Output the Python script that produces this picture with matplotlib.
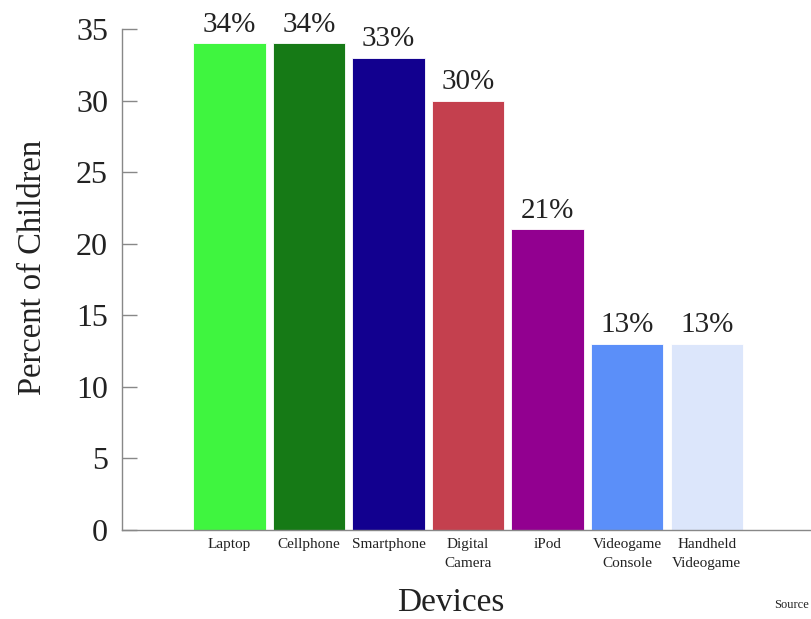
import matplotlib
matplotlib.use("Agg")
import matplotlib.pyplot as plt

categories = ["Laptop", "Cellphone", "Smartphone", "Digital\nCamera", "iPod",
              "Videogame\nConsole", "Handheld\nVideogame"]
values = [34, 34, 33, 30, 21, 13, 13]
bar_labels = ["34%", "34%", "33%", "30%", "21%", "13%", "13%"]
colors = ["#3ff53f", "#167a16", "#12008f", "#c4404e", "#920090", "#5b8ff9", "#dce6fb"]
yticks = [0, 5, 10, 15, 20, 25, 30, 35]

plt.rcParams['font.family'] = ['Liberation Serif', 'DejaVu Serif']

fig = plt.figure(figsize=(8.11, 6.19), dpi=100)
ax = fig.add_axes([122/811, 1-530/619, 1-122/811, (530-29)/619])

x = list(range(len(categories)))
bars = ax.bar(x, values, width=0.91, color=colors, edgecolor="white", linewidth=0.6)
ax.bar_label(bars, labels=bar_labels, padding=4, fontsize=21, color="#222222", clip_on=False)

ax.set_xlim(-1.35, 7.31)
ax.set_ylim(0, 35)
ax.set_yticks(yticks)
ax.set_xticks(x)
ax.set_xticklabels(categories, fontsize=11, color="#222222", linespacing=1.55)
ax.tick_params(axis='x', length=0, pad=6)
ax.tick_params(axis='y', direction='in', length=11, width=1, color="#888888",
               labelsize=23, pad=10, labelcolor="#222222")

for s in ['top', 'right']:
    ax.spines[s].set_visible(False)
for s in ['left', 'bottom']:
    ax.spines[s].set_color("#888888")
    ax.spines[s].set_linewidth(1)

ax.set_ylabel("Percent of Children", fontsize=23.5, color="#222222", va='center')
ax.yaxis.set_label_coords(-0.129, 0.525)
ax.set_xlabel("Devices", fontsize=24, color="#222222", va='center')
ax.xaxis.set_label_coords(0.4775, -0.146)

fig.text(809/811, 1-605/619, "Source", fontsize=9, color="#222222", va='center', ha='right')

fig.savefig("out.png", dpi=100)
